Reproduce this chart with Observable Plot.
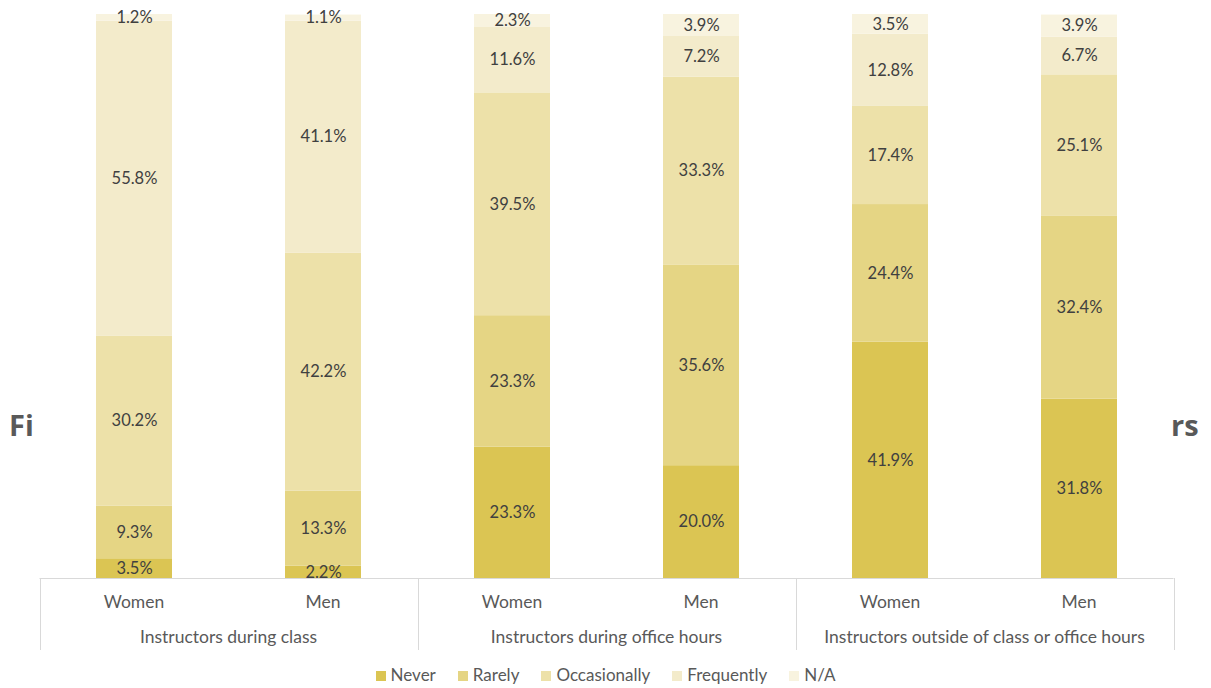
<!DOCTYPE html>
<html>
<head>
<meta charset="utf-8">
<script src="https://cdn.jsdelivr.net/npm/d3@7"></script>
<script src="https://cdn.jsdelivr.net/npm/@observablehq/plot@0.6"></script>
<style>
  html, body { margin: 0; padding: 0; background: #fff; }
  #wrap { position: relative; width: 1211px; height: 688px; font-family: Lato, "Open Sans", sans-serif; }
  .ttl { position: absolute; top: 405px; font: bold 29px "Open Sans", sans-serif; color: #595959; }
  #chart { position: absolute; left: 0; top: 0; }
  #legend { position: absolute; left: 0; top: 664px; width: 1211px; display: flex; justify-content: center; gap: 22px; font-size: 17px; color: #595959; }
  #legend span.sw { display: inline-block; width: 10px; height: 10px; margin-right: 5px; vertical-align: 0px; }
</style>
</head>
<body>
<div id="wrap">
  <div class="ttl" style="left:9px">Fi</div>
  <div class="ttl" style="left:1171px">rs</div>
  <div id="chart"></div>
  <div id="legend"></div>
</div>
<script>
const groups = ["Instructors during class", "Instructors during office hours", "Instructors outside of class or office hours"];
const genders = ["Women", "Men"];
const responses = ["Never", "Rarely", "Occasionally", "Frequently", "N/A"];
const colors = ["#dbc553", "#e5d584", "#ede1a9", "#f3ebcb", "#f8f3df"];
// values per bar, order: Never, Rarely, Occasionally, Frequently, N/A
const classWomen = [3.5, 9.3, 30.2, 55.8, 1.2];
const classMen = [2.2, 13.3, 42.2, 41.1, 1.1];
const officeWomen = [23.3, 23.3, 39.5, 11.6, 2.3];
const officeMen = [20.0, 35.6, 33.3, 7.2, 3.9];
const outsideWomen = [41.9, 24.4, 17.4, 12.8, 3.5];
const outsideMen = [31.8, 32.4, 25.1, 6.7, 3.9];

const series = [
  [groups[0], genders[0], classWomen], [groups[0], genders[1], classMen],
  [groups[1], genders[0], officeWomen], [groups[1], genders[1], officeMen],
  [groups[2], genders[0], outsideWomen], [groups[2], genders[1], outsideMen]
];
const data = [];
for (const [g, s, vals] of series) {
  vals.forEach((v, i) => data.push({key: g + "|" + s, group: g, gender: s, response: responses[i], value: v}));
}
const keys = series.map(([g, s]) => g + "|" + s);

const axisMark = (index, scales, values, dimensions) => {
  const x = scales.x;
  const bw = x.bandwidth();
  const step = x.step ? x.step() : bw / 0.4;
  const pad = (step - bw) / 2;
  const svgNS = "http://www.w3.org/2000/svg";
  const gEl = document.createElementNS(svgNS, "g");
  const y0 = dimensions.height - dimensions.marginBottom;
  const yBot = y0 + 72;
  const line = (x1, y1, x2, y2) => {
    const l = document.createElementNS(svgNS, "line");
    l.setAttribute("x1", x1); l.setAttribute("y1", y1);
    l.setAttribute("x2", x2); l.setAttribute("y2", y2);
    l.setAttribute("stroke", "#d9d9d9"); l.setAttribute("stroke-width", 1);
    gEl.appendChild(l);
  };
  const txt = (tx, ty, s) => {
    const t = document.createElementNS(svgNS, "text");
    t.setAttribute("x", tx); t.setAttribute("y", ty);
    t.setAttribute("text-anchor", "middle");
    t.setAttribute("fill", "#595959");
    t.setAttribute("font-size", 17.5);
    t.textContent = s;
    gEl.appendChild(t);
  };
  const left = x(keys[0]) - pad;
  const right = x(keys[keys.length - 1]) + bw + pad;
  line(left, y0 + 0.5, right, y0 + 0.5);
  groups.forEach((g, gi) => {
    const k0 = keys[gi * 2], k1 = keys[gi * 2 + 1];
    const gl = x(k0) - pad;
    const gr = x(k1) + bw + pad;
    line(Math.round(gl) + 0.5, y0, Math.round(gl) + 0.5, yBot);
    if (gi === groups.length - 1) line(Math.round(gr) + 0.5, y0, Math.round(gr) + 0.5, yBot);
    txt(x(k0) + bw / 2, y0 + 30, genders[0]);
    txt(x(k1) + bw / 2, y0 + 30, genders[1]);
    txt((gl + gr) / 2, y0 + 65, g);
  });
  return gEl;
};

const plot = Plot.plot({
  width: 1211,
  height: 660,
  marginLeft: 39,
  marginRight: 37,
  marginTop: 14,
  marginBottom: 82,
  style: {fontFamily: "Lato, 'Open Sans', sans-serif", background: "transparent", overflow: "visible"},
  x: {domain: keys, paddingInner: 0.6, paddingOuter: 0.3, axis: null},
  y: {domain: [0, 100], axis: null},
  color: {domain: responses, range: colors},
  marks: [
    Plot.barY(data, Plot.stackY({x: "key", y: "value", z: "response", fill: "response", order: responses})),
    Plot.text(data, Plot.stackY({x: "key", y: "value", z: "response", order: responses, text: d => d.value.toFixed(1) + "%", fill: "#404040", fontSize: 16.5})),
    axisMark
  ]
});
// white plotting area behind the bars that hides the middle of the title
d3.select(plot).insert("rect", ":first-child")
  .attr("x", 34).attr("y", 0).attr("width", 1134).attr("height", 660).attr("fill", "white");
document.getElementById("chart").appendChild(plot);

const legend = d3.select("#legend");
responses.forEach((r, i) => {
  const item = legend.append("div");
  item.append("span").attr("class", "sw").style("background", colors[i]);
  item.append("span").text(r);
});
</script>
</body>
</html>
